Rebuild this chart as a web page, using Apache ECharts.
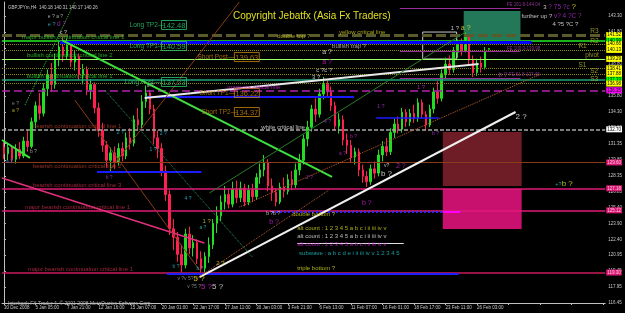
<!DOCTYPE html>
<html><head><meta charset="utf-8">
<script src="https://cdn.jsdelivr.net/npm/echarts@6/dist/echarts.min.js"></script>
<style>html,body{margin:0;padding:0;background:#000}#c{width:625px;height:313px}</style>
</head><body><div id="c"></div>
<script>
// ---- data ----
const timeLabels = ['30 Dec 2008','5 Jan 05:00','7 Jan 21:00','12 Jan 16:00','15 Jan 07:00','20 Jan 01:00','22 Jan 17:00','27 Jan 11:00','30 Jan 03:00','3 Feb 21:00','6 Feb 13:00','11 Feb 07:00','16 Feb 01:00','18 Feb 17:00','23 Feb 11:00','26 Feb 03:00'];
const slotCount = 153;
// [open, close, low, high]
const candles = [
[131.0,130.4,129.9,131.5],[130.4,131.0,129.8,131.4],[131.0,129.9,129.6,131.2],[129.9,130.8,129.5,131.3],
[130.8,130.2,129.9,131.5],[130.2,131.6,130.0,132.0],[131.6,131.1,130.6,132.6],[131.1,133.4,130.9,133.8],
[133.4,134.9,132.8,135.3],[134.9,134.2,133.6,136.1],[134.2,136.5,133.9,137.0],[136.5,137.8,135.8,138.3],
[137.8,136.9,136.2,138.9],[136.9,139.2,136.5,139.8],[139.2,140.4,138.6,140.9],[140.4,139.6,139.0,141.6],
[139.6,140.6,139.2,141.2],[140.6,139.0,138.5,140.9],[139.0,139.5,138.2,140.1],[139.5,137.8,137.3,139.8],
[137.8,138.3,136.9,138.8],[138.3,136.4,135.9,138.6],[136.4,136.9,135.5,137.4],[136.9,134.7,134.2,137.1],
[134.7,132.6,132.0,135.2],[132.6,131.2,130.6,133.3],[131.2,129.8,129.1,131.6],[129.8,130.5,128.8,131.0],
[130.5,129.6,129.0,131.1],[129.6,130.9,129.3,131.4],[130.9,130.2,129.7,131.5],[130.2,131.9,129.9,132.4],
[131.9,131.4,130.8,132.8],[131.4,133.6,131.1,134.0],[133.6,133.1,132.6,134.7],[133.1,135.3,132.8,135.9],
[135.3,136.1,134.7,136.8],[136.1,134.6,134.1,136.4],[134.6,131.9,131.3,135.0],[131.9,130.9,130.0,132.6],
[130.9,128.8,128.3,131.4],[128.8,126.6,126.0,129.3],[126.6,123.4,122.8,127.0],[123.4,122.6,121.4,124.3],
[122.6,121.0,120.3,123.1],[121.0,120.0,119.3,121.9],[120.0,122.9,119.7,123.4],[122.9,121.6,121.0,123.6],
[121.6,122.1,120.8,122.8],[122.1,120.6,120.1,122.4],[120.6,119.7,119.3,121.3],[119.7,120.8,119.3,121.2],
[120.8,121.9,120.2,122.6],[121.9,123.9,121.5,124.3],[123.9,124.6,123.0,125.5],[124.6,125.9,124.1,126.5],
[125.9,126.6,125.2,127.4],[126.6,125.7,125.3,127.2],[125.7,127.1,125.4,127.8],[127.1,126.3,125.8,127.9],
[126.3,127.2,125.9,127.8],[127.2,125.9,125.5,127.6],[125.9,127.0,125.6,127.5],[127.0,126.4,125.9,127.6],
[126.4,128.2,126.1,128.6],[128.2,128.9,127.6,129.5],[128.9,129.6,128.3,130.3],[129.6,127.4,126.9,129.9],
[127.4,126.8,126.0,128.1],[126.8,125.9,125.5,127.2],[125.9,127.3,125.7,127.7],[127.3,126.9,126.3,128.2],
[126.9,128.0,126.6,128.5],[128.0,127.5,127.0,128.8],[127.5,128.9,127.2,129.5],[128.9,129.8,128.4,130.4],
[129.8,131.8,129.4,132.2],[131.8,132.9,131.1,133.5],[132.9,134.6,132.5,135.0],[134.6,134.1,133.4,135.6],
[134.1,136.0,133.8,136.5],[136.0,136.9,135.5,137.6],[136.9,136.2,135.8,137.3],[136.2,134.9,134.4,136.7],
[134.9,133.0,132.6,135.3],[133.0,133.6,132.3,134.2],[133.6,131.7,131.2,134.0],[131.7,131.2,130.4,132.3],
[131.2,130.1,129.6,131.7],[130.1,130.6,129.4,131.0],[130.6,128.9,128.3,130.9],[128.9,128.3,127.7,129.4],
[128.3,127.8,127.3,128.8],[127.8,129.0,127.5,129.4],[129.0,128.6,128.1,129.7],[128.6,130.3,128.3,130.8],
[130.3,131.1,129.7,131.6],[131.1,130.6,130.2,131.9],[130.6,132.4,130.3,132.8],[132.4,133.2,131.9,133.7],
[133.2,132.7,132.3,133.9],[132.7,134.3,132.4,134.7],[134.3,133.4,132.9,134.6],[133.4,134.2,133.0,134.6],
[134.2,133.7,133.3,135.0],[133.7,135.2,133.4,135.6],[135.2,134.1,133.7,135.5],[134.1,133.1,132.6,134.4],
[133.1,134.6,132.9,135.0],[134.6,136.2,134.2,136.6],[136.2,135.6,135.1,137.2],[135.6,137.9,135.3,138.3],
[137.9,138.8,137.4,139.4],[138.8,138.3,137.8,139.6],[138.3,139.9,138.0,140.4],[139.9,140.6,139.4,141.1],
[140.6,140.1,139.6,141.2],[140.1,141.4,139.9,141.8],[141.4,139.2,138.8,141.6],[139.2,138.0,137.6,139.6],
[138.0,138.9,137.7,139.3],[138.9,138.5,138.0,139.5],[138.5,140.0,138.3,140.4],[140.18,140.26,140.17,140.31]
];
const yTickValues = [143.30,141.80,140.30,138.80,137.30,135.80,134.30,132.80,131.35,129.85,128.35,126.85,125.40,123.90,122.40,120.95,119.45,117.95,116.45];
const yMin = 116.45, yMax = 144.61;
const pivotLevels = [141.52,140.99,140.66,140.13,139.29,138.41,137.88,137.33,136.98,136.35];
const criticalLevels = [132.70,129.60,127.18,125.12,119.30];
const fibLevels = [144.04,139.98,137.46];
const headerText = 'GBPJPYm,H4  140.18 140.31 140.17 140.26';

// ---- styles ----
const FONT = 'Liberation Sans, Arial, sans-serif';
const OL = '#8c8c14';
const pivotStyles = [
  {c:'#5a5a2a',w:3,t:[10,4],bg:'#ffff00'},
  {c:'#22ee22',w:1.5,t:'solid',bg:'#00ff00'},
  {c:OL,w:1,t:'dotted',bg:'#ffff00'},
  {c:OL,w:1,t:'dotted',bg:'#ffff00'},
  {c:'#99ff66',w:1,t:'solid',bg:'#ffff00'},
  {c:OL,w:1,t:'dotted',bg:'#ffff00'},
  {c:OL,w:1,t:'dotted',bg:'#ffff00'},
  {c:'#1aa37a',w:1.5,t:'solid',bg:'#00ff00'},
  {c:OL,w:1,t:'dotted',bg:'#ffff00'},
  {c:'#b026b0',w:1.5,t:[8,4],bg:'#ff00ff'}
];
const critStyles = [
  {c:'#a8a8a8',w:1.5,t:[4,2],bg:'#ffffff',fg:'#000'},
  {c:'#8b3b1b',w:1,t:'solid',bg:'#d81b72',fg:'#ffc0e0'},
  {c:'#e01a78',w:1.5,t:'solid',bg:'#d81b72',fg:'#ffc0e0'},
  {c:'#e01a78',w:1.5,t:'solid',bg:'#d81b72',fg:'#ffc0e0'},
  {c:'#c81a5a',w:1.5,t:'solid',bg:'#d81b72',fg:'#ffc0e0'}
];

function hLevel(p, s){
  return {yAxis:p, lineStyle:{color:s.c,width:s.w,type:s.t},
    label:{show:true,position:'end',distance:1,formatter:p.toFixed(2),fontSize:4.5,fontFamily:FONT,
      color:s.fg||'#000',backgroundColor:s.bg,padding:[1,1,0,1]}};
}
function seg(v1,p1,v2,p2,color,width,type){
  return [{coord:[v1,p1],lineStyle:{color:color,width:width,type:type||'solid'},label:{show:false}},{coord:[v2,p2]}];
}
const lineMarks = [];
pivotLevels.forEach((p,i)=>lineMarks.push(hLevel(p,pivotStyles[i])));
criticalLevels.forEach((p,i)=>lineMarks.push(hLevel(p,critStyles[i])));
// horizontal segments
lineMarks.push(seg(14.2,140.80,133.8,140.80,'#0000ff',3));
lineMarks.push(seg(36.2,135.75,88.8,135.75,'#1a1aff',2));
lineMarks.push(seg(23.6,128.73,50.1,128.73,'#1a1aff',2));
lineMarks.push(seg(94.4,133.76,110.3,133.76,'#1a1aff',1.5));
lineMarks.push(seg(68.0,124.97,115.8,124.97,'#2a2aff',2,'dotted'));
lineMarks.push(seg(111.3,124.97,115.8,124.97,'#ff00ff',2));
lineMarks.push(seg(41.3,119.17,115.3,119.17,'#2020ff',2));
lineMarks.push(seg(74.4,122.06,101.4,122.06,'#e0e0e0',1));
fibLevels.forEach(p=>lineMarks.push(seg(100.4,p,131.0,p,'#9a2f9a',1)));
// trend lines
lineMarks.push(seg(14.67,141.05,83.21,128.24,'#3ee03e',2));
lineMarks.push(seg(-0.5,131.70,6.58,130.02,'#3ee03e',2));
lineMarks.push(seg(49.58,118.88,129.75,134.32,'#f0f0f0',2));
lineMarks.push(seg(35.67,135.63,120.39,138.81,'#e8e8e8',2));
lineMarks.push(seg(-0.5,128.14,50.84,122.06,'#e0307e',1.5));
lineMarks.push(seg(5.32,134.97,17.96,144.61,'#40c040',1,'dotted'));
lineMarks.push(seg(25.55,136.38,62.98,120.75,'#2a9a5a',1,'dotted'));
lineMarks.push(seg(59.7,125.43,135.6,137.78,'#c0602a',1,'dotted'));
lineMarks.push(seg(48.3,118.60,82.45,127.02,'#c0602a',1,'dotted'));
lineMarks.push(seg(17.96,135.44,49.58,119.53,'#8b3a1a',1));
lineMarks.push(seg(52.1,126.74,117.9,141.99,'#2a7a2a',1));
lineMarks.push(seg(26.8,128.89,59.7,144.61,'#8b3a1a',1));

const areaMarks = [
  [{coord:[116.6,143.77],itemStyle:{color:'#24785a'}},{coord:[131.0,141.05]}],
  [{coord:[111.3,132.45],itemStyle:{color:'#6e1c26'}},{coord:[131.3,127.40]}],
  [{coord:[111.3,127.12],itemStyle:{color:'#c8106e'}},{coord:[131.3,123.37]}],
  [{coord:[106.2,141.80],itemStyle:{color:'rgba(0,0,0,0)',borderColor:'#c8c8c8',borderWidth:1}},{coord:[114.8,139.28]}]
];

// ---- text annotations ----
const rich = {
  w:{color:'#e8e8e8',fontSize:6,fontFamily:FONT}, g:{color:'#a0a0a0',fontSize:5,fontFamily:FONT},
  y:{color:'#e0e020',fontSize:7,fontFamily:FONT}, p:{color:'#b030d0',fontSize:6.5,fontFamily:FONT},
  m:{color:'#e020e0',fontSize:8,fontFamily:FONT}, c:{color:'#30c0c0',fontSize:5.5,fontFamily:FONT},
  W:{color:'#e8e8e8',fontSize:8,fontFamily:FONT}, Y:{color:'#e0e020',fontSize:8,fontFamily:FONT}
};
function note(v,p,text,color,size,extra){
  return {value:[v,p],label:Object.assign({show:true,formatter:text,color:color,fontSize:size,fontFamily:FONT,position:'right',distance:0,rich:rich},extra||{})};
}
function box(v,p,text,color){
  return note(v,p,text,color,7.5,{borderColor:color,borderWidth:1,padding:[1,1,0,1]});
}
const GR='#2ed02e', OR='#c8860b', RB='#b8402a', PK='#c8304a';
const notes = [
  note(4.56,141.34,'major bullish continuation critical line 1',GR,6),
  note(5.82,139.65,'bullish continuation critical line 2',GR,6),
  note(5.82,137.69,'bullish continuation critical line 1',GR,6),
  note(7.34,133.01,'bearish continuation critical line 1',RB,6),
  note(7.34,129.27,'bearish continuation critical line 2',RB,6),
  note(7.34,127.49,'bearish continuation critical line 3',PK,6),
  note(5.32,125.43,'major bearish continuation critical line 1',PK,6),
  note(6.08,119.63,'major bearish continuation critical line 1',PK,6),
  note(31.87,142.46,'Long TP2—','#2ecc71',6.5), box(39.96,142.46,'142.48','#2ecc71'),
  note(31.87,140.49,'Long TP1—','#2ecc71',6.5), box(39.96,140.49,'140.59','#2ecc71'),
  note(49.07,139.46,'Short Post—',OR,6.5), box(58.43,139.46,'139.63',OR),
  note(30.61,137.13,'Long Post—','#2ecc71',6.5), box(39.96,137.13,'137.23','#2ecc71'),
  note(49.58,136.10,'Short TP1—',OR,6.5), box(58.43,136.10,'136.22',OR),
  note(50.08,134.32,'Short TP2—',OR,6.5), box(58.43,134.32,'134.37',OR),
  note(56.66,136.66,'magenta critical line','#d21ed2',6),
  note(84.98,141.80,'yellow critical line','#d0d020',6),
  note(83.21,140.49,'bullish trap ?','#c8c8c8',6),
  note(69.3,141.43,'double top ?','#c8c820',6),
  note(65.25,132.92,'white critical line','#e8e8e8',6),
  note(73.09,124.78,'double bottom ?','#d8d820',6),
  note(74.36,119.73,'triple bottom ?','#d8d820',6),
  note(74.36,123.47,'alt count : 1 2 3 4 5 a b c i ii iii iv v','#d8d820',6),
  note(74.36,122.72,'alt count : 1 2 3 4 5 a b c i ii iii iv v','#e0e0e0',6),
  note(74.36,121.97,'alt count : 1 2 3 4 5 a b c i ii iii iv v','#d020d0',6),
  note(74.86,121.13,'subwave : a b c d e i ii iii iv v 1 2 3 4 5','#20c0c0',6),
  note(148.7,141.90,'R3','#b4b43c',6.5), note(148.7,140.96,'R2','#b4b43c',6.5),
  note(145.7,140.49,'R1','#b4b43c',6.5), note(147.4,139.65,'pivot','#b4b43c',6.5),
  note(145.7,138.72,'S1','#b4b43c',6.5), note(148.7,138.15,'S2','#b4b43c',6.5),
  note(148.7,137.41,'S3','#b4b43c',6.5),
  note(127.5,144.33,'FE 161.8-144.04','#b040b0',4.5),
  note(127.5,140.21,'FE 100.0-139.98','#b040b0',4.5),
  note(125.4,137.78,'{p|b ?} FE 61.8-137.46','#b040b0',4.5),
  note(136.8,144.14,'{w|3 }{p|? 75 ?c }{Y|?}','#e8e8e8',6),
  note(131.27,143.30,'{w|further up ? }{p|v? 4 ?C ?}','#e8e8e8',6),
  note(139.1,142.55,'{w|4 ?5 ?C ?}','#e8e8e8',6),
  note(11.13,143.21,'e ? a ?','#c8c8c8',5),
  note(11.13,142.55,'{c|e ?} {p|d ?}','#c8c8c8',5),
  note(14.17,141.80,'c ?','#e8e8e8',5.5),
  note(2.03,135.07,'e ?','#a0a0a0',5), note(2.03,134.41,'a ?','#d0d020',5),
  note(0.51,129.64,'a ?','#3090ff',5), note(6.58,130.58,'b ?','#c8c8c8',5),
  note(28.6,132.35,'2 ?','#30c0e0',5), note(36.9,130.76,'1 ?','#30c0e0',5),
  note(39.5,132.26,'2 ?','#30c0e0',5), note(25.8,128.15,'b ?','#a040c0',5),
  note(45.8,126.18,'4 ?','#30c0e0',5), note(36.2,136.75,'a ?','#c8c8c8',5),
  note(44.0,118.70,'{g|v ?v 5?}{Y|5 ?}','#c8c8c8',5),
  note(46.5,117.95,'{g|v ?5 ?}{m|5 ?}{W|5 ?}','#c8c8c8',5),
  note(50.33,124.12,'1 ?','#d0d020',6), note(49.58,123.47,'a ?','#30c0c0',5),
  note(42.75,119.82,'b ?','#30c0c0',5), note(48.8,119.63,'b ?','#30c0c0',5),
  note(53.87,120.19,'2 ?','#d0d020',6),
  note(66.5,124.78,'b ?b ?','#e8e8e8',5), note(67.27,124.03,'b ?','#d020d0',7),
  note(81.2,133.38,'4 ?','#b030d0',5), note(87.76,131.98,'b ?','#d020d0',5),
  note(84.98,130.39,'a ?','#b030d0',5), note(76.6,128.15,'2 ?','#b030d0',5),
  note(96.36,129.27,'v?','#e8e8e8',5), note(99.4,129.27,'2 ?','#d020d0',7),
  note(95.6,128.52,'b ?','#e8e8e8',8), note(90.8,125.80,'b ?','#d020d0',7),
  note(108.5,132.35,'b ?','#b030d0',5.5), note(94.6,134.79,'1 ?','#b030d0',5.5),
  note(113.3,142.18,'{w|1 ?} {y|a ?}','#e8e8e8',6.5),
  note(80.7,139.93,'a ?','#e8e8e8',7), note(80.7,138.99,'a ?','#d020d0',7),
  note(79.2,138.25,'c ?c ?','#e8e8e8',6), note(78.15,137.59,'3 ?','#e8e8e8',6),
  note(104.7,136.66,'1 ?','#d020d0',6),
  note(129.75,133.85,'2 ?','#e8e8e8',8),
  note(139.85,127.58,'{c|+?}{Y|b ?}','#e8e8e8',6)
];

const chart = echarts.init(document.getElementById('c'), null, {renderer:'canvas'});
chart.setOption({
  animation:false,
  backgroundColor:'#000000',
  title:[
    {text:headerText,left:3,top:0,textStyle:{color:'#c8c8c8',fontSize:4.5,fontWeight:'normal',fontFamily:FONT}},
    {text:'Copyright Jebatfx (Asia Fx Traders)',left:228,top:6,textStyle:{color:'#e0e020',fontSize:10,fontWeight:'normal',fontFamily:FONT}},
    {text:'Interbank FX Trader 4, © 2001-2008 MetaQuotes Software Corp.',left:3,top:296,textStyle:{color:'#b0b0b0',fontSize:5,fontWeight:'normal',fontFamily:FONT}}
  ],
  grid:{left:2,right:18,top:2,bottom:10,containLabel:false},
  xAxis:[
    {type:'category',data:Array.from({length:slotCount},(_,i)=>String(i)),boundaryGap:true,
     axisLine:{show:true,lineStyle:{color:'#c0c0c0',width:1}},
     axisTick:{show:true,interval:7,alignWithLabel:true,length:2,lineStyle:{color:'#c0c0c0'}},
     axisLabel:{interval:7,align:'left',margin:2,fontSize:4.5,fontFamily:FONT,color:'#c8c8c8',
       formatter:(v,i)=>timeLabels[i/8]||''},
     splitLine:{show:false}},
    {type:'value',min:-0.5,max:slotCount-0.5,show:false}
  ],
  yAxis:{type:'value',position:'right',min:yMin,max:yMax,
    axisLine:{show:true,lineStyle:{color:'#c0c0c0',width:1}},
    axisTick:{show:true,length:2,customValues:yTickValues,lineStyle:{color:'#c0c0c0'}},
    axisLabel:{customValues:yTickValues,margin:3,fontSize:4.5,fontFamily:FONT,color:'#c8c8c8',formatter:v=>v.toFixed(2)},
    splitLine:{show:false}},
  series:[
    {type:'line',xAxisIndex:1,data:[],z:1,silent:true,
     markArea:{silent:true,data:areaMarks}},
    {type:'candlestick',xAxisIndex:0,data:candles,z:3,barWidth:2,
     itemStyle:{color:'#22dd22',color0:'#ff2050',borderColor:'#22dd22',borderColor0:'#ff2050',borderWidth:1}},
    {type:'line',xAxisIndex:1,data:[],z:4,silent:true,
     markLine:{silent:true,symbol:'none',animation:false,data:lineMarks}},
    {type:'scatter',xAxisIndex:1,symbolSize:0,z:6,silent:true,data:notes}
  ]
});
</script></body></html>
